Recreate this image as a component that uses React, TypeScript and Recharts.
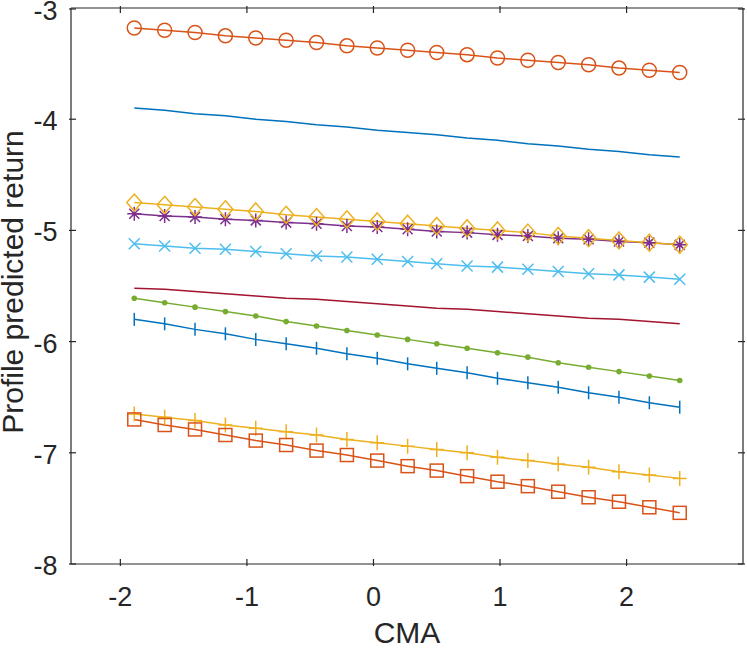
import React from "react";
import { LineChart, Line, XAxis, YAxis } from "recharts";

// CMA grid (19 evaluation points)
const cma = [
  -1.89, -1.65, -1.41, -1.17, -0.93, -0.69, -0.45, -0.21, 0.03, 0.27, 0.5, 0.74,
  0.98, 1.22, 1.46, 1.7, 1.94, 2.18, 2.42,
];

// profile predicted returns, top to bottom
const blueLine = [
  -3.9, -3.92, -3.95, -3.97, -4.0, -4.02, -4.05, -4.07, -4.1, -4.12, -4.14, -4.17,
  -4.19, -4.22, -4.24, -4.27, -4.29, -4.32, -4.34,
];
const orangeCircle = [
  -3.18, -3.2, -3.22, -3.25, -3.27, -3.29, -3.31, -3.34, -3.36, -3.38, -3.4, -3.42,
  -3.45, -3.47, -3.49, -3.51, -3.54, -3.56, -3.58,
];
const purpleStar = [
  -4.85, -4.87, -4.88, -4.9, -4.91, -4.93, -4.94, -4.96, -4.97, -4.99, -5.01, -5.02,
  -5.04, -5.05, -5.07, -5.08, -5.1, -5.11, -5.13,
];
const yellowDiamond = [
  -4.75, -4.77, -4.79, -4.81, -4.83, -4.86, -4.88, -4.9, -4.92, -4.94, -4.96, -4.98,
  -5.0, -5.02, -5.05, -5.07, -5.09, -5.11, -5.13,
];
const cyanCross = [
  -5.12, -5.14, -5.16, -5.17, -5.19, -5.21, -5.23, -5.24, -5.26, -5.28, -5.3, -5.32,
  -5.33, -5.35, -5.37, -5.39, -5.4, -5.42, -5.44,
];
const crimsonLine = [
  -5.52, -5.53, -5.55, -5.57, -5.59, -5.61, -5.62, -5.64, -5.66, -5.68, -5.7, -5.71,
  -5.73, -5.75, -5.77, -5.79, -5.8, -5.82, -5.84,
];
const greenDot = [
  -5.61, -5.65, -5.69, -5.73, -5.77, -5.82, -5.86, -5.9, -5.94, -5.98, -6.02, -6.06,
  -6.1, -6.14, -6.19, -6.23, -6.27, -6.31, -6.35,
];
const blueBar = [
  -5.8, -5.84, -5.89, -5.93, -5.98, -6.02, -6.06, -6.11, -6.15, -6.2, -6.24, -6.28,
  -6.33, -6.37, -6.41, -6.46, -6.5, -6.55, -6.59,
];
const yellowPlus = [
  -6.65, -6.68, -6.71, -6.75, -6.78, -6.81, -6.84, -6.88, -6.91, -6.94, -6.97, -7.0,
  -7.04, -7.07, -7.1, -7.13, -7.17, -7.2, -7.23,
];
const orangeSquare = [
  -6.7, -6.75, -6.79, -6.84, -6.89, -6.93, -6.98, -7.02, -7.07, -7.12, -7.16, -7.21,
  -7.26, -7.3, -7.35, -7.4, -7.44, -7.49, -7.54,
];

const xTicks = [-2, -1, 0, 1, 2];
const yTicks = [-8, -7, -6, -5, -4, -3];

const data = cma.map((x, i) => ({
  x,
  blueLine: blueLine[i],
  orangeCircle: orangeCircle[i],
  purpleStar: purpleStar[i],
  yellowDiamond: yellowDiamond[i],
  cyanCross: cyanCross[i],
  crimsonLine: crimsonLine[i],
  greenDot: greenDot[i],
  blueBar: blueBar[i],
  yellowPlus: yellowPlus[i],
  orangeSquare: orangeSquare[i],
}));

const AX = "#262626";
const FONT = "'Liberation Sans', Arial, Helvetica, sans-serif";

// MATLAB-like markers
const marker = (kind: string, color: string) => (p: any) => {
  const { cx, cy, index } = p;
  const k = `${kind}-${index}`;
  const s = { stroke: color, strokeWidth: 1.5, fill: "none" };
  if (cx == null || cy == null) return <g key={k} />;
  switch (kind) {
    case "circle":
      return <circle key={k} cx={cx} cy={cy} r={7} {...s} />;
    case "square":
      return <rect key={k} x={cx - 6.5} y={cy - 6.5} width={13} height={13} {...s} />;
    case "diamond":
      return (
        <path key={k} d={`M${cx},${cy - 8.5}L${cx + 7.5},${cy}L${cx},${cy + 8.5}L${cx - 7.5},${cy}Z`} {...s} />
      );
    case "star":
      return (
        <path
          key={k}
          d={`M${cx - 7},${cy}H${cx + 7}M${cx},${cy - 7}V${cy + 7}M${cx - 5},${cy - 5}L${cx + 5},${cy + 5}M${cx - 5},${cy + 5}L${cx + 5},${cy - 5}`}
          {...s}
        />
      );
    case "cross":
      return (
        <path key={k} d={`M${cx - 5.5},${cy - 5.5}L${cx + 5.5},${cy + 5.5}M${cx - 5.5},${cy + 5.5}L${cx + 5.5},${cy - 5.5}`} {...s} />
      );
    case "plus":
      return <path key={k} d={`M${cx - 7},${cy}H${cx + 7}M${cx},${cy - 7.5}V${cy + 7.5}`} {...s} />;
    case "bar":
      return <path key={k} d={`M${cx},${cy - 6.5}V${cy + 6.5}`} {...s} />;
    case "dot":
      return <circle key={k} cx={cx} cy={cy} r={2.8} fill={color} stroke="none" />;
    default:
      return <g key={k} />;
  }
};

const BottomTick = (p: any) => (
  <g>
    <line x1={p.x} x2={p.x} y1={p.y} y2={p.y - 7} stroke={AX} strokeWidth={1.2} />
    <text x={p.x} y={p.y + 40} textAnchor="middle" fontSize={27} fontFamily={FONT} fill={AX}>
      {p.payload.value}
    </text>
  </g>
);
const LeftTick = (p: any) => (
  <g>
    <line x1={p.x} x2={p.x + 7} y1={p.y} y2={p.y} stroke={AX} strokeWidth={1.2} />
    <text x={p.x - 11.5} y={p.y + 11} textAnchor="end" fontSize={27} fontFamily={FONT} fill={AX}>
      {p.payload.value}
    </text>
  </g>
);
const TopTick = (p: any) => (
  <line x1={p.x} x2={p.x} y1={p.y} y2={p.y + 7} stroke={AX} strokeWidth={1.2} />
);
const RightTick = (p: any) => (
  <line x1={p.x} x2={p.x - 7} y1={p.y} y2={p.y} stroke={AX} strokeWidth={1.2} />
);

const YLabel = () => (
  <text transform="translate(23, 282) rotate(-90)" textAnchor="middle" fontSize={30} fontFamily={FONT} fill={AX}>
    Profile predicted return
  </text>
);

// the first series is bound to the top/right axes so those box sides get drawn
const series = [
  { key: "blueLine", color: "#0072BD", kind: "none", xId: "top", yId: "right" },
  { key: "orangeCircle", color: "#D95319", kind: "circle", xId: "bottom", yId: "left" },
  { key: "purpleStar", color: "#7E2F8E", kind: "star", xId: "bottom", yId: "left" },
  { key: "yellowDiamond", color: "#EDB120", kind: "diamond", xId: "bottom", yId: "left" },
  { key: "cyanCross", color: "#4DBEEE", kind: "cross", xId: "bottom", yId: "left" },
  { key: "crimsonLine", color: "#A2142F", kind: "none", xId: "bottom", yId: "left" },
  { key: "greenDot", color: "#77AC30", kind: "dot", xId: "bottom", yId: "left" },
  { key: "blueBar", color: "#0072BD", kind: "bar", xId: "bottom", yId: "left" },
  { key: "yellowPlus", color: "#EDB120", kind: "plus", xId: "bottom", yId: "left" },
  { key: "orangeSquare", color: "#D95319", kind: "square", xId: "bottom", yId: "left" },
];

export default function App() {
  return (
    <div style={{ position: "absolute", left: 0, top: 0, background: "#fff" }}>
      <LineChart width={747} height={648} data={data} margin={{ top: 0, right: 0, bottom: 4, left: 0 }}>
        <XAxis
          xAxisId="bottom"
          dataKey="x"
          type="number"
          domain={[-2.39, 2.92]}
          ticks={xTicks}
          height={80}
          tickSize={0}
          tickLine={false}
          tick={BottomTick}
          axisLine={{ stroke: AX, strokeWidth: 1.2 }}
          label={{ value: "CMA", position: "insideBottom", offset: 1, fontSize: 30, fontFamily: FONT, fill: AX }}
        />
        <XAxis
          xAxisId="top"
          orientation="top"
          dataKey="x"
          type="number"
          domain={[-2.39, 2.92]}
          ticks={xTicks}
          height={8}
          tickSize={0}
          tickLine={false}
          tick={TopTick}
          axisLine={{ stroke: AX, strokeWidth: 1.2 }}
        />
        <YAxis
          yAxisId="left"
          type="number"
          domain={[-8, -3]}
          ticks={yTicks}
          width={71}
          tickSize={0}
          tickLine={false}
          tick={LeftTick}
          axisLine={{ stroke: AX, strokeWidth: 1.2 }}
          label={YLabel}
        />
        <YAxis
          yAxisId="right"
          orientation="right"
          type="number"
          domain={[-8, -3]}
          ticks={yTicks}
          width={4}
          tickSize={0}
          tickLine={false}
          tick={RightTick}
          axisLine={{ stroke: AX, strokeWidth: 1.2 }}
        />
        {series.map((s) => (
          <Line
            key={s.key}
            xAxisId={s.xId}
            yAxisId={s.yId}
            dataKey={s.key}
            stroke={s.color}
            strokeWidth={1.5}
            dot={s.kind === "none" ? false : marker(s.kind, s.color)}
            activeDot={false}
            isAnimationActive={false}
            type="linear"
          />
        ))}
      </LineChart>
    </div>
  );
}
